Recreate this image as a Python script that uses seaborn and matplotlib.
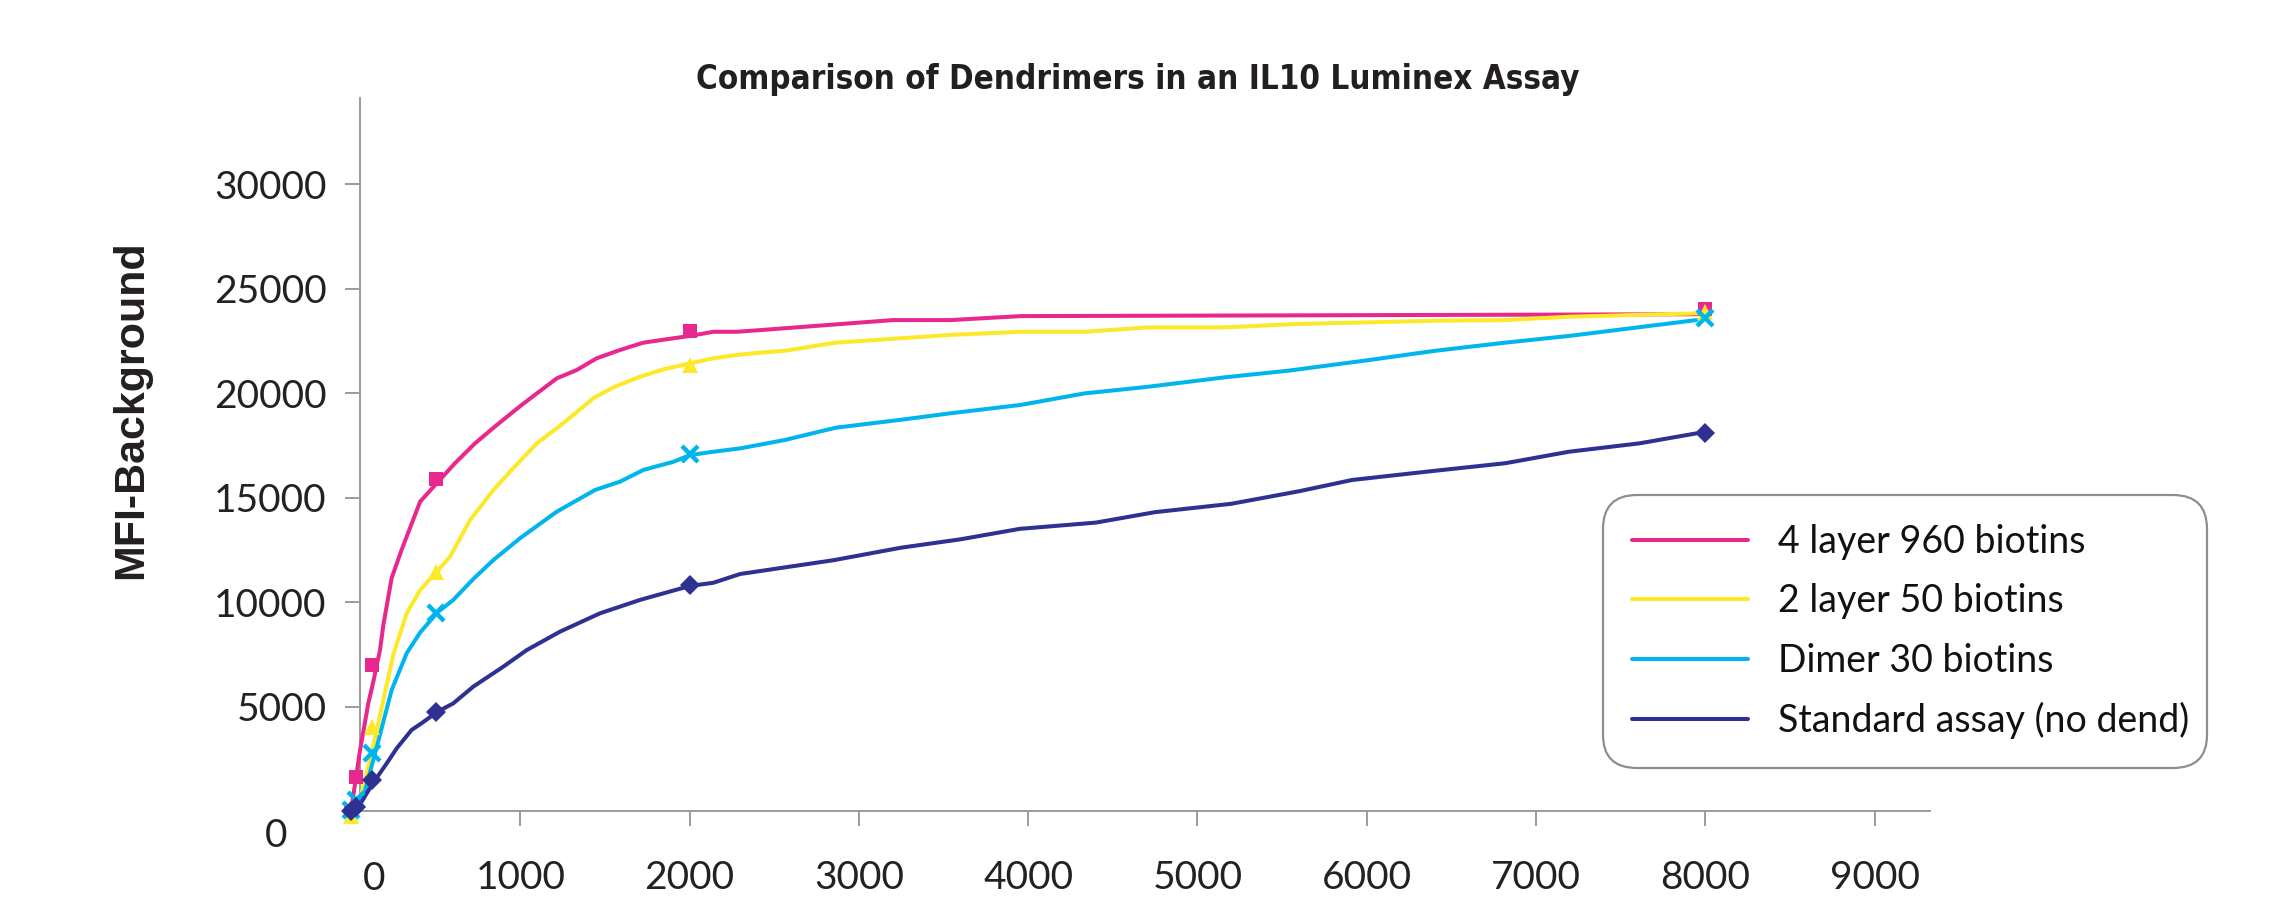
import numpy as np
import pandas as pd
import matplotlib
matplotlib.use("Agg")
import matplotlib.pyplot as plt
import seaborn as sns
from matplotlib import font_manager as fm
from matplotlib.lines import Line2D

# ---------------- data ----------------
series_names = ["4 layer 960 biotins", "2 layer 50 biotins", "Dimer 30 biotins", "Standard assay (no dend)"]
series_colors = ["#E8288E", "#FBE92A", "#00B5EE", "#2E3192"]
series_markers = ["s", "^", "x", "D"]

# measured points (markers)
point_x = [0, 31.25, 125, 500, 2000, 8000]
pts_4layer = [0, 1650, 7000, 15900, 22950, 24000]
pts_2layer = [-250, 450, 4030, 11450, 21350, 23900]
pts_dimer = [50, 550, 2760, 9460, 17100, 23600]
pts_standard = [0, 200, 1480, 4750, 10800, 18100]

# smoothed curve vertices
curve_4layer_x = [0, 53, 102, 132, 171, 191, 240, 299, 408, 506, 614, 732, 861, 1008, 1215, 1333, 1451,
                  1589, 1727, 1904, 2002, 2140, 2278, 2416, 3201, 3541, 3955, 7948]
curve_4layer_y = [0, 2900, 5150, 6200, 7700, 8900, 11150, 12500, 14800, 15680, 16640, 17590, 18470, 19430,
                  20700, 21100, 21660, 22060, 22410, 22620, 22730, 22930, 22930, 23010, 23490, 23490, 23680, 23770]
curve_2layer_x = [24, 53, 102, 152, 191, 250, 329, 408, 506, 585, 703, 841, 949, 1097, 1215, 1313, 1431, 1549,
                  1707, 1845, 2002, 2140, 2278, 2416, 2561, 2863, 3541, 3955, 4332, 4709, 5161, 5575, 6403,
                  6818, 7194, 7948]
curve_2layer_y = [-110, 530, 2120, 3880, 5310, 7500, 9460, 10570, 11450, 12170, 13920, 15360, 16320, 17590,
                  18310, 18950, 19750, 20270, 20780, 21130, 21420, 21660, 21820, 21930, 22020, 22410, 22780,
                  22930, 22930, 23140, 23140, 23300, 23460, 23490, 23650, 23810]
curve_dimer_x = [14, 73, 142, 240, 329, 408, 510, 604, 722, 841, 998, 1215, 1441, 1589, 1727, 1904, 2002, 2140,
                 2298, 2561, 2863, 3239, 3541, 3955, 4332, 4709, 5161, 5538, 5989, 6403, 6818, 7194, 7948]
curve_dimer_y = [0, 680, 2760, 5790, 7550, 8540, 9500, 10100, 11100, 12010, 13050, 14320, 15360, 15760, 16320,
                 16710, 17030, 17190, 17350, 17750, 18340, 18710, 19030, 19430, 19980, 20300, 20750, 21070,
                 21550, 22020, 22410, 22730, 23490]
curve_standard_x = [34, 93, 142, 211, 270, 358, 417, 510, 604, 722, 900, 1038, 1234, 1471, 1707, 2002, 2140,
                    2298, 2850, 3250, 3600, 3950, 4400, 4750, 5200, 5600, 5914, 6403, 6818, 7194, 7609, 7948]
curve_standard_y = [50, 850, 1480, 2280, 3000, 3880, 4200, 4750, 5150, 5950, 6910, 7700, 8580, 9460, 10100,
                    10770, 10920, 11340, 12000, 12600, 13000, 13500, 13800, 14300, 14700, 15300, 15840, 16280,
                    16640, 17190, 17590, 18070]

y_ticks = [5000, 10000, 15000, 20000, 25000, 30000]
x_ticks = [1000, 2000, 3000, 4000, 5000, 6000, 7000, 8000, 9000]

title_text = "Comparison of Dendrimers in an IL10 Luminex Assay"
ylabel_text = "MFI-Background"

# ---------------- style ----------------
sns.set_theme(style="white")
plt.rcParams["font.family"] = ["Lato", "DejaVu Sans"]

# look for a condensed / narrow bold face for the title
cands = []
for f in fm.fontManager.ttflist:
    n = (f.name + " " + f.fname).lower()
    if ("condensed" in n or "narrow" in n) and ("bold" in n or str(f.weight) in ("bold", "700", "600")):
        cands.append(f)
cands.sort(key=lambda f: (0 if "dejavu" in f.fname.lower() else 1,
                          "oblique" in f.fname.lower() or "italic" in f.fname.lower()))
if cands:
    title_fp = fm.FontProperties(fname=cands[0].fname, size=23.8)
else:
    title_fp = fm.FontProperties(family="DejaVu Sans", weight="bold", size=21)

W, H = 2281, 898
fig = plt.figure(figsize=(W / 100, H / 100), dpi=100)
fig.patch.set_facecolor("white")

ax_left, ax_right, ax_bottom, ax_top = 360 / W, 1930 / W, 1 - 811 / H, 1 - 97.5 / H
ax = fig.add_axes([ax_left, ax_bottom, ax_right - ax_left, ax_top - ax_bottom])
ax.set_facecolor("white")

curves = [(curve_4layer_x, curve_4layer_y), (curve_2layer_x, curve_2layer_y),
          (curve_dimer_x, curve_dimer_y), (curve_standard_x, curve_standard_y)]
points = [pts_4layer, pts_2layer, pts_dimer, pts_standard]

handles = []
for name, color, mk, (cx, cy), py in zip(series_names, series_colors, series_markers, curves, points):
    df = pd.DataFrame({"x": cx, "y": cy})
    sns.lineplot(data=df, x="x", y="y", ax=ax, color=color, lw=2.9, sort=False,
                 estimator=None, clip_on=False, zorder=3)
    dfp = pd.DataFrame({"x": point_x, "y": py})
    if mk == "x":
        ax.plot(dfp["x"], dfp["y"], ls="none", marker="x", ms=11, mew=3.2, color=color,
                clip_on=False, zorder=4)
    else:
        ms = {"s": 10, "^": 12, "D": 10}[mk]
        ax.plot(dfp["x"], dfp["y"], ls="none", marker=mk, ms=ms, mew=0, color=color,
                clip_on=False, zorder=4)
    handles.append(Line2D([0], [0], color=color, lw=2.9))

ax.set_xlim(53, 9327)
ax.set_ylim(0, 34140)
ax.set_xlabel("")
ax.set_ylabel("")

spine_color = "#9b9b9b"
for s in ["top", "right"]:
    ax.spines[s].set_visible(False)
for s in ["left", "bottom"]:
    ax.spines[s].set_color(spine_color)
    ax.spines[s].set_linewidth(1.4)

ax.set_yticks(y_ticks)
ax.set_yticklabels([str(v) for v in y_ticks])
ax.set_xticks(x_ticks)
ax.set_xticklabels([str(v) for v in x_ticks])
ax.tick_params(axis="y", direction="out", length=11, width=1.4, color=spine_color,
               pad=13, labelsize=28, labelcolor="#222222", left=True)
ax.tick_params(axis="x", direction="out", length=11, width=1.4, color=spine_color,
               pad=24, labelsize=28, labelcolor="#222222", bottom=True)

# the "0" labels of the two axes, placed as in the reference
fig.text(287 / W, 1 - 836 / H, "0", ha="right", va="center", fontsize=28, color="#222222")
fig.text(374 / W, 1 - 879 / H, "0", ha="center", va="center", fontsize=28, color="#222222")

fig.text(131 / W, 1 - 410 / H, ylabel_text, rotation=90, ha="center", va="center",
         fontsize=31, fontweight="bold", color="#231f20", family=["Liberation Sans", "DejaVu Sans"])
fig.text(1138 / W, 1 - 79 / H, title_text, ha="center", va="center",
         fontproperties=title_fp, color="#231f20")

leg = fig.legend(handles, series_names, loc="upper left",
                 bbox_to_anchor=(1603 / W, 1 - 495 / H, (2207 - 1603) / W, 0.0001),
                 bbox_transform=fig.transFigure, mode="expand", fontsize=27,
                 frameon=True, fancybox=True, handlelength=3.1, handletextpad=0.8,
                 labelspacing=0.62, borderpad=0.78, borderaxespad=0)
frame = leg.get_frame()
frame.set_edgecolor("#8e8e8e")
frame.set_linewidth(1.6)
frame.set_facecolor("white")
frame.set_alpha(1)
frame.set_boxstyle("round", pad=0, rounding_size=0.9)
for t in leg.get_texts():
    t.set_color("#111111")

fig.savefig("out.png", dpi=100, facecolor="white")
